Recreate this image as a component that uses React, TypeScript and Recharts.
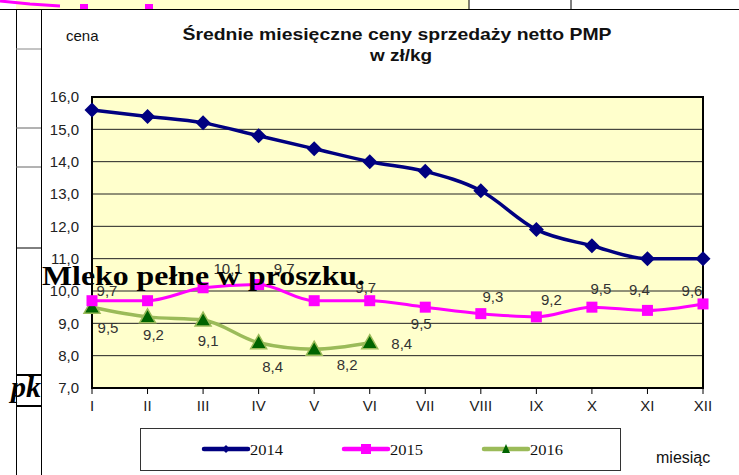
import React from "react";
import { CartesianGrid, Line, LineChart, ReferenceArea, XAxis, YAxis } from "recharts";

const months = ["I", "II", "III", "IV", "V", "VI", "VII", "VIII", "IX", "X", "XI", "XII"];
const prices2014 = [15.6, 15.4, 15.2, 14.8, 14.4, 14.0, 13.7, 13.1, 11.9, 11.4, 11.0, 11.0];
const prices2015 = [9.7, 9.7, 10.1, 10.2, 9.7, 9.7, 9.5, 9.3, 9.2, 9.5, 9.4, 9.6];
const prices2016 = [9.5, 9.2, 9.1, 8.4, 8.2, 8.4];
const yTicks = [7, 8, 9, 10, 11, 12, 13, 14, 15, 16];
const seriesNames = ["2014", "2015", "2016"];

// label placement (dx, dy) per point, null = no label
const labelOffsets2015: ([number, number] | null)[] = [
	[15, -10], null, [25, -19], null, [-30, -32], [-4, -13],
	[-4, 16], [12, -17], [15, -17], [9, -19], [-8, -21], [-11, -13],
];
const labelOffsets2016: ([number, number] | null)[] = [
	[16, 20], [6, 18], [5, 20], [14, 24], [33, 15], [32, 1],
];

const data = months.map((m, i) => ({
	month: m,
	y2014: prices2014[i],
	y2015: prices2015[i],
	y2016: i < prices2016.length ? prices2016[i] : null,
}));

const fmt = (v: number) => v.toFixed(1).replace(".", ",");

const NAVY = "#000080";
const MAGENTA = "#FF00FF";
const GREEN = "#9BBB59";
const DARKGREEN = "#006400";
const SANS = "Liberation Sans, Arial, sans-serif";

function Diamond(props: any) {
	const { cx, cy, index } = props;
	if (cx == null || cy == null) return <g key={"d" + index} />;
	const r = 7.5;
	return <polygon key={"d" + index} points={`${cx},${cy - r} ${cx + r},${cy} ${cx},${cy + r} ${cx - r},${cy}`} fill={NAVY} />;
}

function Square(props: any) {
	const { cx, cy, index } = props;
	if (cx == null || cy == null) return <g key={"s" + index} />;
	return <rect key={"s" + index} x={cx - 5.5} y={cy - 5.5} width={11} height={11} fill={MAGENTA} />;
}

function Triangle(props: any) {
	const { cx, cy, index, value } = props;
	if (cx == null || cy == null || value == null) return <g key={"t" + index} />;
	return <polygon key={"t" + index} points={`${cx},${cy - 8} ${cx + 8},${cy + 6} ${cx - 8},${cy + 6}`}
		fill={DARKGREEN} stroke={GREEN} strokeWidth={1.5} />;
}

function makeLabel(offsets: ([number, number] | null)[]) {
	return (props: any) => {
		const { x, y, value, index } = props;
		const off = offsets[index];
		if (!off || value == null) return null;
		return <text key={"l" + index} x={x + off[0]} y={y + off[1]} textAnchor="middle" dominantBaseline="central"
			fontFamily={SANS} fontSize={15} fill="#333">{fmt(value)}</text>;
	};
}

function LegendIcon(props: { x: number, color: string, marker: string }) {
	const { x, color, marker } = props;
	const cx = x + 22;
	return <g>
		<line x1={x} y1={449} x2={x + 44} y2={449} stroke={color} strokeWidth={4.5} strokeLinecap="round" />
		{marker === "diamond" && <polygon points={`${cx},${445} ${cx + 4},${449} ${cx},${453} ${cx - 4},${449}`} fill={NAVY} />}
		{marker === "square" && <rect x={cx - 5} y={444} width={10} height={10} fill={MAGENTA} />}
		{marker === "triangle" && <polygon points={`${cx},${444} ${cx + 4},${453} ${cx - 4},${453}`} fill={DARKGREEN} />}
	</g>;
}

export default function App() {
	const legendX = [204, 344, 484];
	const legendColors = [NAVY, MAGENTA, GREEN];
	const legendMarkers = ["diamond", "square", "triangle"];
	return <div style={{ position: "absolute", left: 0, top: 0, width: 739, height: 475, background: "#fff", overflow: "hidden" }}>
		<LineChart width={739} height={475} data={data} margin={{ top: 97, right: 36, bottom: 57, left: 42 }}>
			<CartesianGrid vertical={false} stroke="#222" fill="#FFFFCC" fillOpacity={1} />
			<XAxis dataKey="month" tickSize={6} tickMargin={6} axisLine={{ stroke: "#000", strokeWidth: 2 }}
				tickLine={{ stroke: "#000" }} height={30} interval={0}
				tick={{ fontFamily: SANS, fontSize: 15, fill: "#222" }} />
			<YAxis domain={[7, 16]} ticks={yTicks} width={50} tickFormatter={fmt} tickLine={false}
				tickSize={6} tickMargin={7} axisLine={{ stroke: "#000", strokeWidth: 2 }}
				tick={{ fontFamily: SANS, fontSize: 15, fill: "#222" }} />
			<ReferenceArea x1="I" x2="XII" y1={7} y2={16} fill="none" stroke="#000" strokeWidth={2} ifOverflow="visible" />
			<Line dataKey="y2016" type="monotone" stroke={GREEN} strokeWidth={3.5} dot={Triangle}
				label={makeLabel(labelOffsets2016)} isAnimationActive={false} connectNulls={false} />
			<Line dataKey="y2015" type="monotone" stroke={MAGENTA} strokeWidth={3} dot={Square}
				label={makeLabel(labelOffsets2015)} isAnimationActive={false} />
			<Line dataKey="y2014" type="monotone" stroke={NAVY} strokeWidth={3.5} dot={Diamond} isAnimationActive={false} />
		</LineChart>
		<svg width={739} height={475} style={{ position: "absolute", left: 0, top: 0, pointerEvents: "none" }}>
			{/* page fragments around the chart */}
			<rect x={16} y={0} width={453} height={9} fill="#FFFFCC" />
			<line x1={469} y1={0} x2={469} y2={10} stroke="#000" />
			<line x1={571} y1={0} x2={571} y2={10} stroke="#000" />
			<polyline points="0,1 30,4 60,6" fill="none" stroke={MAGENTA} strokeWidth={3} />
			<rect x={80} y={4} width={8} height={5} fill={MAGENTA} />
			<rect x={145} y={4} width={8} height={5} fill={MAGENTA} />
			<line x1={0} y1={9.5} x2={739} y2={9.5} stroke="#000" />
			<line x1={16.5} y1={10} x2={16.5} y2={475} stroke="#000" />
			<line x1={41.5} y1={10} x2={41.5} y2={475} stroke="#000" />
			<line x1={16} y1={49} x2={41} y2={49} stroke="#888" />
			<line x1={16} y1={128} x2={41} y2={128} stroke="#666" />
			<line x1={16} y1={167} x2={41} y2={167} stroke="#666" />
			<line x1={16} y1={248} x2={41} y2={248} stroke="#000" />
			<line x1={16} y1={375} x2={41} y2={375} stroke="#000" strokeWidth={2} />
			<line x1={16} y1={406} x2={41} y2={406} stroke="#000" strokeWidth={2} />
			<text x={41} y={397} textAnchor="end" fontFamily="Liberation Serif, serif" fontWeight="bold" fontStyle="italic" fontSize={30}>pk</text>

			<text x={66} y={41} fontFamily={SANS} fontSize={15} fill="#111">cena</text>
			<text x={397} y={40} textAnchor="middle" fontFamily={SANS} fontWeight="bold" fontSize={17}
				textLength={429} lengthAdjust="spacingAndGlyphs" fill="#111">Średnie miesięczne ceny sprzedaży netto PMP</text>
			<text x={401} y={61} textAnchor="middle" fontFamily={SANS} fontWeight="bold" fontSize={17}
				textLength={62} lengthAdjust="spacingAndGlyphs" fill="#111">w zł/kg</text>
			<text x={656} y={463} fontFamily={SANS} fontSize={16} fill="#111">miesiąc</text>

			<rect x={140.5} y={428.5} width={480} height={42} fill="#fff" stroke="#333" />
			{seriesNames.map((n, i) => <g key={n}>
				<LegendIcon x={legendX[i]} color={legendColors[i]} marker={legendMarkers[i]} />
				<text x={legendX[i] + 46} y={455} fontFamily="Liberation Serif, serif" fontSize={15}
					textLength={33} lengthAdjust="spacingAndGlyphs" fill="#111">{n}</text>
			</g>)}

			<text x={42} y={285} fontFamily="Liberation Serif, serif" fontWeight="bold" fontSize={28}
				textLength={323} lengthAdjust="spacingAndGlyphs" fill="#000">Mleko pełne w proszku.</text>
		</svg>
	</div>;
}
